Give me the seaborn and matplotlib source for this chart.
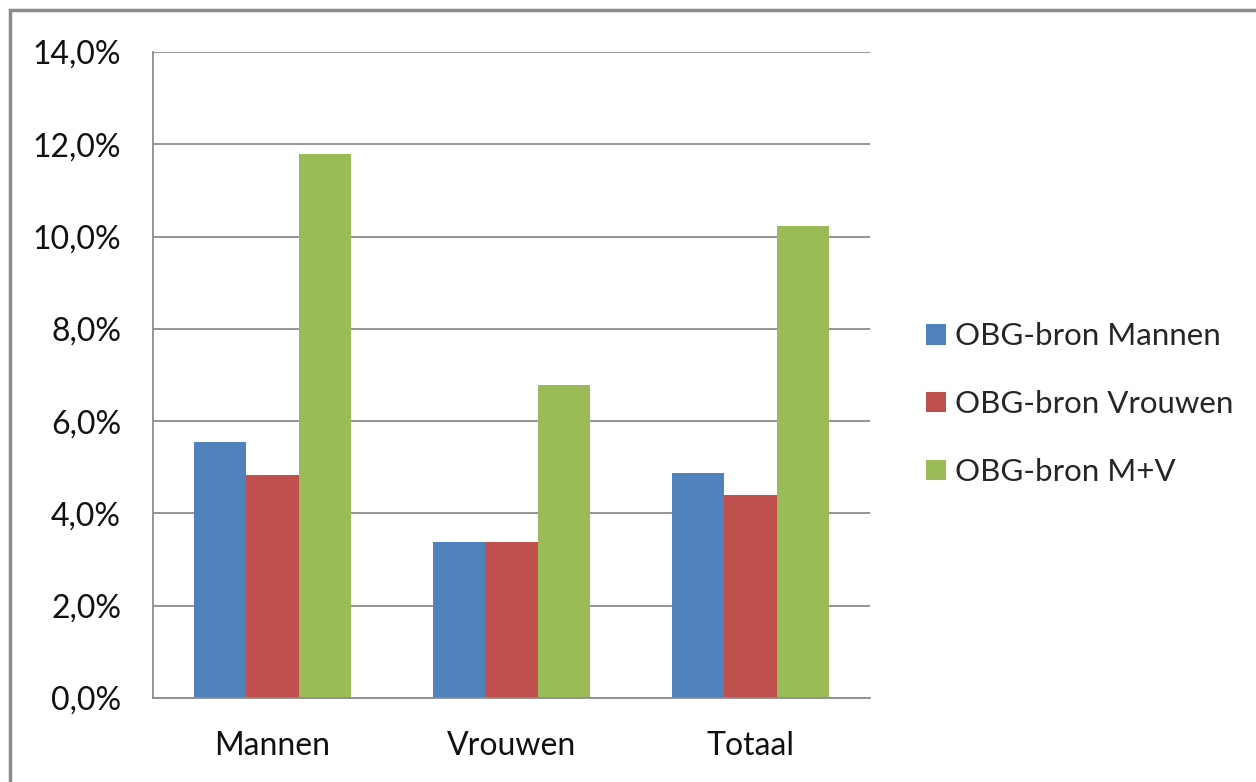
import matplotlib
matplotlib.use('Agg')
from matplotlib import pyplot as plt
from matplotlib.patches import Rectangle
from matplotlib.ticker import FuncFormatter, FixedLocator
import pandas as pd
import seaborn as sns

categories = ['Mannen', 'Vrouwen', 'Totaal']
series = ['OBG-bron Mannen', 'OBG-bron Vrouwen', 'OBG-bron M+V']
obg_mannen = [5.55, 3.38, 4.88]
obg_vrouwen = [4.84, 3.38, 4.39]
obg_mv = [11.8, 6.78, 10.23]
colors = ['#4F81BD', '#C0504D', '#9BBB59']

rows = []
for name, vals in zip(series, [obg_mannen, obg_vrouwen, obg_mv]):
    for cat, v in zip(categories, vals):
        rows.append({'categorie': cat, 'reeks': name, 'waarde': v})
df = pd.DataFrame(rows)

sns.set_style('white')
plt.rcParams['font.family'] = ['Lato', 'DejaVu Sans']

fig = plt.figure(figsize=(12.56, 7.82), dpi=100)
ax = fig.add_axes([153 / 1256, 1 - 698 / 782, (870 - 153) / 1256, (698 - 52) / 782])

sns.barplot(data=df, x='categorie', y='waarde', hue='reeks', order=categories,
            hue_order=series, palette=colors, width=0.66, gap=0, saturation=1,
            linewidth=0, errorbar=None, ax=ax)

grid_col = '#8c8c8c'
ax.set_ylim(0, 14)
ax.set_xlim(-0.5, 2.5)
ax.set_yticks([0, 2, 4, 6, 8, 10, 12, 14])
ax.yaxis.set_major_formatter(FuncFormatter(lambda v, p: '{:.1f}%'.format(v).replace('.', ',')))
ax.yaxis.grid(True, color=grid_col, linewidth=1.3)
ax.set_axisbelow(True)
ax.set_xlabel('')
ax.set_ylabel('')

# category boundary ticks on x axis
ax.xaxis.set_minor_locator(FixedLocator([-0.5, 0.5, 1.5, 2.5]))
ax.tick_params(axis='x', which='major', length=0, labelsize=23, pad=24, colors='#111111')
ax.tick_params(axis='x', which='minor', length=10, width=1.3, color=grid_col, direction='out')
ax.tick_params(axis='y', length=8, width=1.3, color=grid_col, direction='out',
               labelsize=23, pad=15, labelcolor='#111111')
for s in ['top', 'right']:
    ax.spines[s].set_visible(False)
for s in ['left', 'bottom']:
    ax.spines[s].set_color(grid_col)
    ax.spines[s].set_linewidth(1.3)

handles, labels = ax.get_legend_handles_labels()
ax.legend(handles, labels, loc='center left', bbox_to_anchor=(1.061, 0.455), frameon=False,
          fontsize=22.5, handlelength=0.62, handleheight=0.62, handletextpad=0.3,
          labelspacing=1.27, borderaxespad=0)

# outer chart border
fig.patches.append(Rectangle((10 / 1256, -0.05), 1.1, 1 - 10 / 782 + 0.05, transform=fig.transFigure,
                             fill=False, edgecolor='#8a8a8a', linewidth=2.5, figure=fig))

fig.savefig('out.png', dpi=100)
